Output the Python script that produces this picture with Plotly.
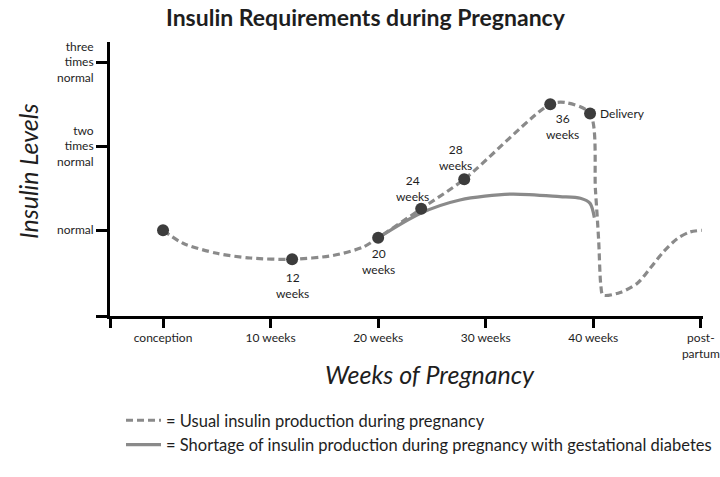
import plotly.graph_objects as go

# ---- data (weeks, insulin level relative to normal) ----
usual_x = [0, 1.86, 5.0, 8.1, 12, 15.8, 18.6, 20, 24, 28, 36, 37.4, 39.7,
           40.2, 40.5, 40.7, 40.9, 42.5, 44.1, 45.3, 46.5, 47.8, 49.0, 50.1]
usual_y = [1.0, 0.845, 0.726, 0.67, 0.655, 0.70, 0.80, 0.91, 1.256, 1.607, 2.5, 2.52, 2.39,
           1.48, 0.88, 0.35, 0.23, 0.26, 0.37, 0.55, 0.74, 0.90, 0.98, 1.0]

short_x = [20, 23.9, 27.6, 32.3, 36.9, 38.8, 39.7, 40.1]
short_y = [0.91, 1.20, 1.36, 1.43, 1.40, 1.38, 1.32, 1.15]

point_x = [0, 12, 20, 24, 28, 36, 39.7]
point_y = [1.0, 0.655, 0.91, 1.256, 1.607, 2.5, 2.39]
point_labels = ["", "12<br>weeks", "20<br>weeks", "24<br>weeks", "28<br>weeks", "36<br>weeks", "Delivery"]

x_tickvals = [0, 10, 20, 30, 40, 50]
x_ticktext = ["conception", "10 weeks", "20 weeks", "30 weeks", "40 weeks", "post-<br>partum"]
y_tickvals = [1, 2, 3]
y_ticktext = ["normal", "two<br>times<br>normal", "three<br>times<br>normal"]

legend_names = ["= Usual insulin production during pregnancy",
                "= Shortage of insulin production during pregnancy with gestational diabetes"]

title_text = "Insulin Requirements during Pregnancy"
x_title = "Weeks of Pregnancy"
y_title = "Insulin Levels"

# ---- styling ----
FONT = "Lato"
TXT = "#1e1e1e"
XR = [-4.93, 50.2]
YR = [-0.02, 3.24]

fig = go.Figure()
fig.add_trace(go.Scatter(
    x=usual_x, y=usual_y, mode="lines", name=legend_names[0],
    line=dict(color="#8a8a8a", width=3.2, dash="7px,4px", shape="spline", smoothing=0.8),
))
fig.add_trace(go.Scatter(
    x=short_x, y=short_y, mode="lines", name=legend_names[1],
    line=dict(color="#8a8a8a", width=3.2, shape="spline", smoothing=0.8),
))
fig.add_trace(go.Scatter(
    x=point_x, y=point_y, mode="markers", showlegend=False,
    marker=dict(color="#3c3c3c", size=12),
))

# point labels
offsets = [(0, 0, "center"), (0, -26, "center"), (0, -24, "center"), (-9, 20, "center"),
           (-9, 22, "center"), (12, -22, "center"), (8, 0, "left")]
for px, py, lab, (dx, dy, anc) in zip(point_x, point_y, point_labels, offsets):
    if not lab:
        continue
    fig.add_annotation(x=px, y=py, text=lab, showarrow=False, xshift=dx, yshift=dy,
                       xanchor=anc, yanchor="middle",
                       font=dict(family=FONT, size=12, color=TXT))

# title and axis titles
fig.add_annotation(xref="paper", yref="paper", x=(366 - 110) / 593, y=(316 - 17) / 274,
                   text="<b>" + title_text + "</b>", showarrow=False,
                   xanchor="center", yanchor="middle",
                   font=dict(family=FONT, size=23, color=TXT))
fig.add_annotation(xref="paper", yref="paper", x=(28 - 110) / 593, y=(316 - 172) / 274,
                   text="<i>" + y_title + "</i>", textangle=-90, showarrow=False,
                   xanchor="center", yanchor="middle",
                   font=dict(family=FONT, size=25, color=TXT))
fig.add_annotation(xref="paper", yref="paper", x=(430 - 110) / 593, y=(316 - 374) / 274,
                   text="<i>" + x_title + "</i>", showarrow=False,
                   xanchor="center", yanchor="middle",
                   font=dict(family=FONT, size=25, color=TXT))

fig.update_layout(
    width=720, height=477,
    margin=dict(l=110, r=17, t=42, b=161, autoexpand=False),
    paper_bgcolor="white", plot_bgcolor="white",
    xaxis=dict(range=XR, showgrid=False, zeroline=False, showline=True, linecolor="black",
               linewidth=3, ticks="outside", ticklen=9, tickwidth=3, tickcolor="black",
               tickvals=[XR[0]] + x_tickvals, ticktext=[""] + x_ticktext,
               tickfont=dict(family=FONT, size=12, color=TXT)),
    yaxis=dict(range=YR, showgrid=False, zeroline=False, showline=True, linecolor="black",
               linewidth=3, ticks="outside", ticklen=11, tickwidth=3, tickcolor="black",
               tickvals=[YR[0]] + y_tickvals, ticktext=[""] + y_ticktext,
               tickfont=dict(family=FONT, size=12, color=TXT)),
    showlegend=True,
    legend=dict(x=(121 - 110) / 593, xanchor="left", y=(316 - 403) / 274, yanchor="top",
                orientation="v", bgcolor="rgba(0,0,0,0)", itemwidth=35,
                font=dict(family=FONT, size=16.5, color=TXT), tracegroupgap=0),
)

fig.write_html("out.html")
